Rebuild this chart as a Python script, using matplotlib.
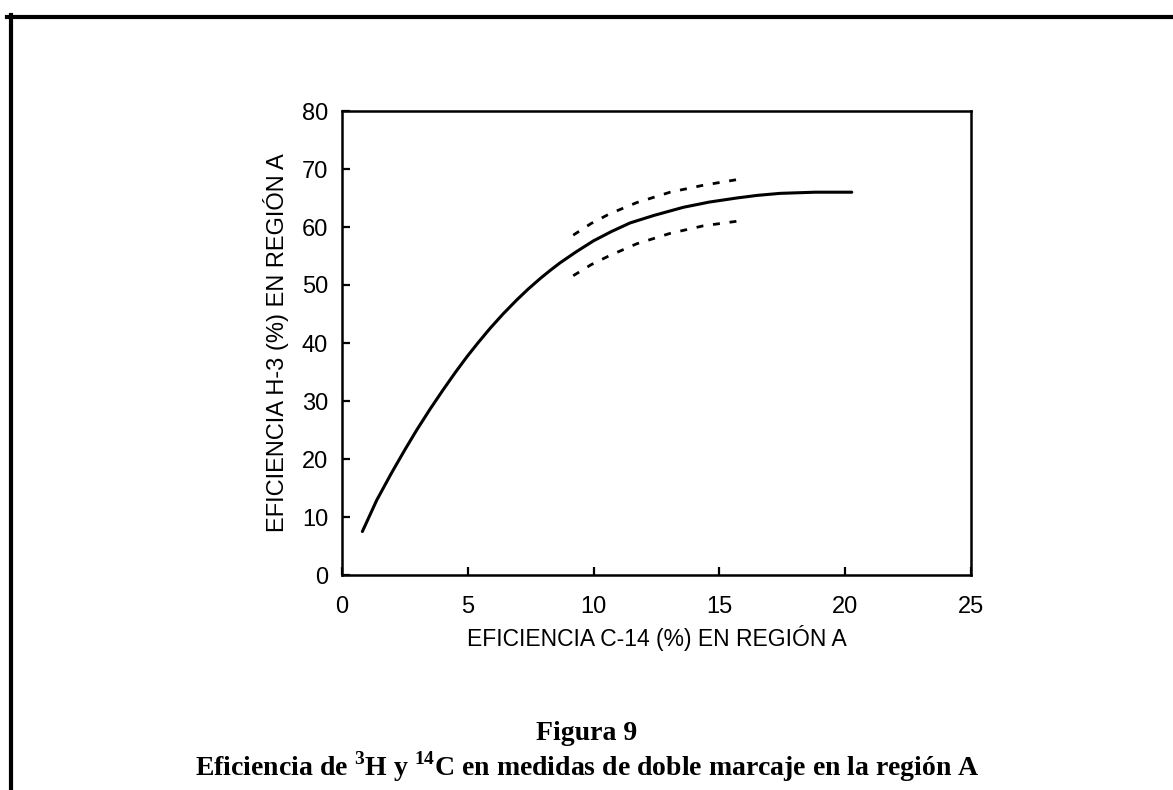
import matplotlib
matplotlib.use("Agg")
import matplotlib.pyplot as plt

# Curva de eficiencia H-3 frente a C-14 (region A)
c14 = [0.81, 1.38, 1.97, 2.5, 2.97, 3.5, 4.03, 4.5, 4.96, 5.4, 5.88, 6.4, 6.94, 7.4, 7.9,
       8.3, 8.66, 9.3, 9.99, 10.7, 11.45, 12.4, 13.57, 14.6, 15.69, 16.5, 17.41, 18.8, 20.26]
h3 = [7.5, 12.9, 17.6, 21.6, 25.0, 28.6, 32.0, 34.9, 37.6, 40.0, 42.5, 45.0, 47.4, 49.3, 51.2,
      52.6, 53.8, 55.7, 57.6, 59.2, 60.7, 62.0, 63.4, 64.3, 65.0, 65.45, 65.8, 66.0, 66.0]

# Limites (lineas de trazos)
lim_x = [9.19, 9.9, 10.65, 11.71, 13.04, 14.36, 15.88]
lim_sup = [58.6, 60.6, 62.3, 64.2, 66.0, 67.2, 68.3]
lim_inf = [51.6, 53.5, 55.1, 57.1, 58.9, 60.2, 61.1]

xticks = [0, 5, 10, 15, 20, 25]
yticks = [0, 10, 20, 30, 40, 50, 60, 70, 80]

plt.rcParams['font.family'] = ['Liberation Sans', 'DejaVu Sans']
plt.rcParams['mathtext.fontset'] = 'custom'
plt.rcParams['mathtext.rm'] = 'Liberation Serif:bold'
plt.rcParams['mathtext.bf'] = 'Liberation Serif:bold'

fig = plt.figure(figsize=(11.73, 7.9), dpi=100)
ax = fig.add_axes([342 / 1173, 1 - 575 / 790, (971 - 342) / 1173, (575 - 111) / 790])

ax.plot(c14, h3, color='black', lw=2.2, solid_capstyle='round', solid_joinstyle='round')
ax.plot(lim_x, lim_sup, color='black', lw=2.0, linestyle=(0, (2.5, 3.5)))
ax.plot(lim_x, lim_inf, color='black', lw=2.0, linestyle=(0, (2.5, 3.5)))

ax.set_xlim(0, 25)
ax.set_ylim(0, 80)
ax.set_xticks(xticks)
ax.set_yticks(yticks)
ax.tick_params(direction='in', length=6, width=1.6, labelsize=17, color='black')
ax.tick_params(axis='x', pad=15)
ax.tick_params(axis='y', pad=10)
for s in ax.spines.values():
    s.set_linewidth(1.8)

ax.set_xlabel("EFICIENCIA C-14 (%) EN REGIÓN A", fontsize=16.5, labelpad=5,
              family=['Liberation Sans Narrow', 'Liberation Sans', 'DejaVu Sans'])
ax.set_ylabel("EFICIENCIA H-3 (%) EN REGIÓN A", fontsize=17, labelpad=9)

# marco de la pagina escaneada
fig.add_artist(plt.Line2D([7 / 1173, 1], [1 - 17 / 790, 1 - 17 / 790], color='black', lw=3,
                          transform=fig.transFigure))
fig.add_artist(plt.Line2D([11 / 1173, 11 / 1173], [0, 1 - 15 / 790], color='black', lw=3,
                          transform=fig.transFigure))

fig.text(587 / 1173, 1 - 733 / 790, "Figura 9", ha='center', va='center', fontsize=20,
         family='Liberation Serif', weight='bold')
fig.text(587 / 1173, 1 - 767 / 790,
         r"Eficiencia de $^{3}$H y $^{14}$C en medidas de doble marcaje en la región A",
         ha='center', va='center', fontsize=20, family='Liberation Serif', weight='bold')

fig.savefig("out.png", dpi=100)
